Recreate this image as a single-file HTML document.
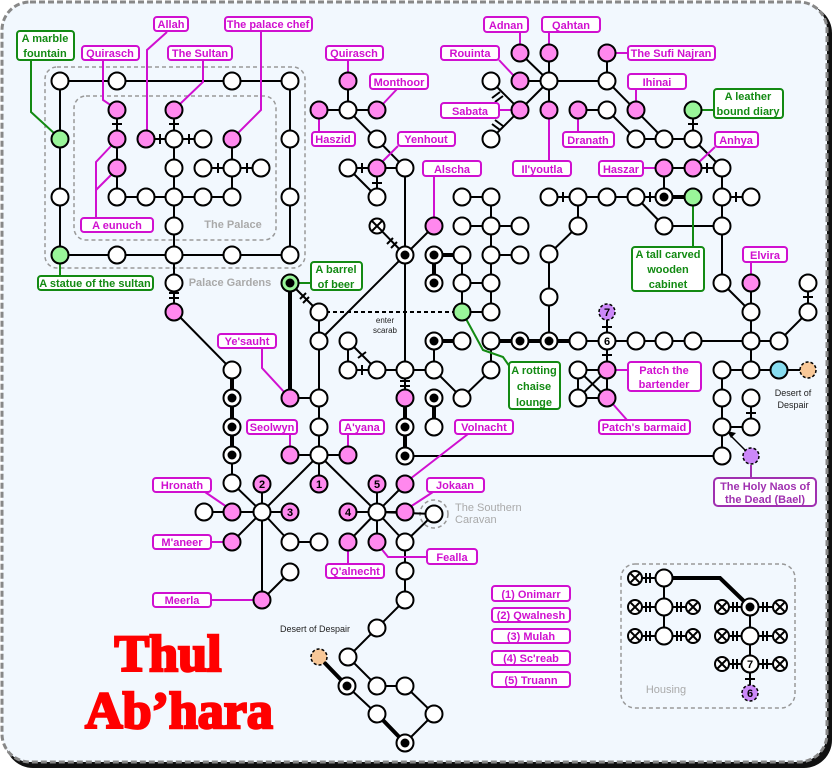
<!DOCTYPE html>
<html><head><meta charset="utf-8"><style>
html,body{margin:0;padding:0;background:#fff}
svg{display:block}
.e{stroke:#000;stroke-width:2;fill:none}
.t{stroke:#000;stroke-width:4;fill:none}
.w{fill:#fff;stroke:#000;stroke-width:2}
.p{fill:#ff88ee;stroke:#000;stroke-width:2}
.g{fill:#99f599;stroke:#000;stroke-width:2}
.pl{fill:#fff;stroke:#d010d0;stroke-width:2}
.gl{fill:#fff;stroke:#138a13;stroke-width:2}
.pk{stroke:#d010d0;stroke-width:2;fill:none}
.gk{stroke:#138a13;stroke-width:2;fill:none}
text{font-family:"Liberation Sans",sans-serif}
.lt{font-size:11px;font-weight:bold;fill:#d010d0;text-anchor:middle}
.gt{font-size:11px;font-weight:bold;fill:#138a13;text-anchor:middle}
.nt{font-size:11px;font-weight:bold;fill:#000;text-anchor:middle}
</style></head><body>
<svg width="832" height="768" viewBox="0 0 832 768" xmlns="http://www.w3.org/2000/svg">
<rect x="5" y="5" width="827" height="763" rx="28" fill="#111"/>
<rect x="2" y="2" width="825" height="760" rx="28" fill="#f2f8fe" stroke="#888" stroke-width="3" stroke-dasharray="6,3"/>
<!-- dashed areas -->
<rect x="45" y="67" width="260" height="201" rx="12" fill="none" stroke="#999" stroke-width="1.5" stroke-dasharray="4,3"/>
<rect x="74" y="96" width="202" height="144" rx="12" fill="none" stroke="#999" stroke-width="1.5" stroke-dasharray="4,3"/>
<rect x="621" y="564" width="174" height="144" rx="14" fill="none" stroke="#999" stroke-width="1.5" stroke-dasharray="4,3"/>
<circle cx="434" cy="514" r="14" fill="none" stroke="#999" stroke-width="1.5" stroke-dasharray="4,3"/>
<text x="233" y="228" font-size="11" font-weight="bold" fill="#aaa" text-anchor="middle">The Palace</text>
<text x="230" y="286" font-size="11" font-weight="bold" fill="#aaa" text-anchor="middle">Palace Gardens</text>
<text x="455" y="511" font-size="11" fill="#aaa">The Southern</text>
<text x="455" y="523" font-size="11" fill="#aaa">Caravan</text>
<text x="666" y="693" font-size="11" fill="#aaa" text-anchor="middle">Housing</text>
<text x="315" y="632" font-size="9" fill="#222" text-anchor="middle">Desert of Despair</text>
<text x="793" y="396" font-size="9" fill="#222" text-anchor="middle">Desert of</text>
<text x="793" y="408" font-size="9" fill="#222" text-anchor="middle">Despair</text>
<text x="385" y="323" font-size="8" fill="#222" text-anchor="middle">enter</text>
<text x="385" y="333" font-size="8" fill="#222" text-anchor="middle">scarab</text>

<!-- edges -->
<path class="e" d="M60,81H290V255H60Z M117,110V197H232 M174,110V312 M146,139H203 M232,139V197 M203,168H261
M348,81V110 M319,110H377 M348,110L405,168 M348,168H405 M377,168V197 M348,168L377,197
M405,168V456 M377,226L405,255 M405,255L434,226 M405,255L319,341 M290,283L319,312
M462,255V312 M462,197H491 M491,197V312 M462,226H520 M491,255H520 M462,283H491 M462,312H491
M549,81L520,53 M549,81V53 M549,81H520 M549,81L520,110 M549,81V110 M549,81H607 M607,53V81 M607,81L664,139 M491,81L520,110 M491,139L520,110
M578,110H607 M607,110L636,139 M636,139H693 M693,110V139 M693,139L722,168 M664,168H722 M664,168V197
M549,197H664 M578,197V226 M578,226L549,254V341 M636,197L664,226H722 M722,168V283 M722,197H751 M722,283L751,312 M751,283V370 M808,283V312L779,341
M578,341H751H779 M607,312V370 M578,370H607V398H578Z M578,370L607,398 M607,370L578,398
M751,370H808 M751,370H722V456 M722,427H751V398
M405,456H722
M348,341V370 M348,341L377,370 M348,370H434 M434,341V370L462,398L491,370V341
M319,312V455 M290,398H319
M290,455H348 M319,455V484 M319,455L262,512 M319,455L377,512
M175,312L232,370V483L262,512 M204,512H290 M262,484V600 M262,512L232,542 M262,512L290,542H319 M262,600L290,572
M377,484V542 M348,512H405 M377,512L405,484 M377,512L348,542 M377,512L405,542 M377,512L434,514 M405,542L434,514
M405,542V600L377,628L348,657L377,686H405L434,714L405,743 M377,714L347,686
M664,578V636 M750,607V693
M635,578H664 M635,607H693 M635,636H693 M722,607H780 M722,636H780 M722,664H780"/>
<!-- thick -->
<path class="t" d="M290,283V398 M232,370V455 M405,398V456 M434,255H462 M434,255V283 M434,341H462 M491,341H578 M434,398V427 M664,197H693 M405,743L377,714 M347,686L319,657 M664,578H720L750,607"/>
<path class="e" stroke-dasharray="4,3" d="M319,312H462"/>
<!-- ticks -->
<path class="e" stroke-width="2" d="M112,124h10 M169,124h10 M169,293h10 M169,298h10 M372,183h10 M400,381h10 M400,386h10 M688,124h10 M803,297h10 M602,327h10 M602,355h10 M746,413h10 M745,679h10
M160,134v10 M189,134v10 M218,163v10 M247,163v10 M362,163v10 M563,192v10 M650,192v10 M707,163v10 M736,192v10 M362,365v10
M492,98l8,-6 M495,102l8,-6 M492,124l8,6 M495,120l8,6 M387,244l6,-6 M391,248l6,-6 M300,299l6,-6 M303,303l6,-6 M358,358l8,-6
M646,573v10 M650,573v10 M646,602v10 M650,602v10 M677,602v10 M681,602v10 M646,631v10 M650,631v10 M677,631v10 M681,631v10
M733,602v10 M737,602v10 M763,602v10 M767,602v10 M733,631v10 M737,631v10 M763,631v10 M767,631v10 M733,659v10 M737,659v10 M763,659v10 M767,659v10"/>
<!-- arrow -->
<path d="M751,456L730,435" stroke="#000" stroke-width="1.5"/><path d="M727,431l9,2l-5,5z" fill="#000"/>

<!-- leader lines -->
<path class="pk" d="M167,32L147,50V131 M261,32V110L236,135 M103,60V100L112,106 M203,60V82L180,104 M96,218V162L112,145 M96,190L112,174
M348,60V73 M398,88L382,105 M319,118V132 M398,146L383,161 M520,32V45 M549,32V45 M499,60L514,76 M615,53H628 M636,89V102 M499,110H512 M578,118V132 M549,118V161 M643,168H656 M715,147L698,163 M434,176V218 M751,262V275
M262,348V368L285,393 M290,434V447 M348,434V447 M468,434L410,479 M205,492L227,507 M433,492L410,507 M211,542H224 M427,557H388L380,547 M348,564V550 M211,600H253 M628,370H615 M627,420L612,403"/>
<path d="M751,478V465" stroke="#a030b0" stroke-width="2"/>
<path class="gk" d="M31,60V112L55,134 M60,264V276 M298,283H311 M701,110H714 M693,205V247 M465,317L483,350L503,357L510,367"/>

<!-- nodes -->
<g class="w">
<circle cx="60" cy="81" r="8.5"/><circle cx="117" cy="81" r="8.5"/><circle cx="232" cy="81" r="8.5"/><circle cx="290" cy="81" r="8.5"/>
<circle cx="60" cy="197" r="8.5"/><circle cx="290" cy="139" r="8.5"/><circle cx="290" cy="197" r="8.5"/><circle cx="290" cy="255" r="8.5"/>
<circle cx="117" cy="255" r="8.5"/><circle cx="174" cy="255" r="8.5"/><circle cx="232" cy="255" r="8.5"/>
<circle cx="117" cy="197" r="8.5"/><circle cx="146" cy="197" r="8.5"/><circle cx="174" cy="197" r="8.5"/><circle cx="203" cy="197" r="8.5"/><circle cx="232" cy="197" r="8.5"/>
<circle cx="174" cy="139" r="8.5"/><circle cx="203" cy="139" r="8.5"/><circle cx="174" cy="168" r="8.5"/><circle cx="174" cy="226" r="8.5"/><circle cx="174" cy="283" r="8.5"/>
<circle cx="203" cy="168" r="8.5"/><circle cx="232" cy="168" r="8.5"/><circle cx="261" cy="168" r="8.5"/>
<circle cx="348" cy="110" r="8.5"/><circle cx="377" cy="139" r="8.5"/><circle cx="405" cy="168" r="8.5"/><circle cx="348" cy="168" r="8.5"/><circle cx="377" cy="197" r="8.5"/>
<circle cx="319" cy="312" r="8.5"/><circle cx="319" cy="341" r="8.5"/><circle cx="319" cy="398" r="8.5"/><circle cx="319" cy="427" r="8.5"/><circle cx="319" cy="455" r="8.5"/>
<circle cx="462" cy="197" r="8.5"/><circle cx="491" cy="197" r="8.5"/><circle cx="462" cy="226" r="8.5"/><circle cx="491" cy="226" r="8.5"/><circle cx="520" cy="226" r="8.5"/>
<circle cx="462" cy="255" r="8.5"/><circle cx="491" cy="255" r="8.5"/><circle cx="520" cy="255" r="8.5"/><circle cx="462" cy="283" r="8.5"/><circle cx="491" cy="283" r="8.5"/><circle cx="491" cy="312" r="8.5"/>
<circle cx="549" cy="81" r="8.5"/><circle cx="491" cy="81" r="8.5"/><circle cx="491" cy="139" r="8.5"/><circle cx="607" cy="81" r="8.5"/><circle cx="607" cy="110" r="8.5"/>
<circle cx="636" cy="139" r="8.5"/><circle cx="664" cy="139" r="8.5"/><circle cx="693" cy="139" r="8.5"/><circle cx="722" cy="168" r="8.5"/>
<circle cx="549" cy="197" r="8.5"/><circle cx="578" cy="197" r="8.5"/><circle cx="607" cy="197" r="8.5"/><circle cx="636" cy="197" r="8.5"/>
<circle cx="578" cy="226" r="8.5"/><circle cx="549" cy="254" r="8.5"/><circle cx="549" cy="297" r="8.5"/><circle cx="664" cy="226" r="8.5"/>
<circle cx="722" cy="197" r="8.5"/><circle cx="751" cy="197" r="8.5"/><circle cx="722" cy="226" r="8.5"/><circle cx="722" cy="283" r="8.5"/><circle cx="751" cy="312" r="8.5"/>
<circle cx="808" cy="283" r="8.5"/><circle cx="808" cy="312" r="8.5"/><circle cx="779" cy="341" r="8.5"/>
<circle cx="578" cy="341" r="8.5"/><circle cx="607" cy="341" r="8.5"/><circle cx="636" cy="341" r="8.5"/><circle cx="664" cy="341" r="8.5"/><circle cx="693" cy="341" r="8.5"/><circle cx="751" cy="341" r="8.5"/>
<circle cx="578" cy="370" r="8.5"/><circle cx="578" cy="398" r="8.5"/>
<circle cx="751" cy="370" r="8.5"/><circle cx="722" cy="370" r="8.5"/><circle cx="722" cy="398" r="8.5"/><circle cx="722" cy="427" r="8.5"/><circle cx="751" cy="398" r="8.5"/><circle cx="751" cy="427" r="8.5"/><circle cx="722" cy="456" r="8.5"/>
<circle cx="462" cy="341" r="8.5"/><circle cx="491" cy="341" r="8.5"/><circle cx="348" cy="341" r="8.5"/><circle cx="348" cy="370" r="8.5"/><circle cx="377" cy="370" r="8.5"/><circle cx="405" cy="370" r="8.5"/><circle cx="434" cy="370" r="8.5"/><circle cx="491" cy="370" r="8.5"/><circle cx="462" cy="398" r="8.5"/><circle cx="434" cy="427" r="8.5"/>
<circle cx="232" cy="370" r="8.5"/><circle cx="232" cy="483" r="8.5"/><circle cx="204" cy="512" r="8.5"/><circle cx="262" cy="512" r="8.5"/><circle cx="290" cy="542" r="8.5"/><circle cx="319" cy="542" r="8.5"/><circle cx="290" cy="572" r="8.5"/>
<circle cx="377" cy="512" r="8.5"/><circle cx="405" cy="542" r="8.5"/><circle cx="434" cy="514" r="8.5"/><circle cx="405" cy="571" r="8.5"/><circle cx="405" cy="600" r="8.5"/><circle cx="377" cy="628" r="8.5"/><circle cx="348" cy="657" r="8.5"/>
<circle cx="377" cy="686" r="8.5"/><circle cx="405" cy="686" r="8.5"/><circle cx="434" cy="714" r="8.5"/><circle cx="377" cy="714" r="8.5"/>
<circle cx="664" cy="578" r="8.5"/><circle cx="664" cy="607" r="8.5"/><circle cx="664" cy="636" r="8.5"/><circle cx="750" cy="636" r="8.5"/><circle cx="750" cy="664" r="8.5"/>
</g>
<!-- bullseyes -->
<g>
<circle class="w" cx="405" cy="255" r="8.5"/><circle cx="405" cy="255" r="4.5"/>
<circle class="w" cx="434" cy="255" r="8.5"/><circle cx="434" cy="255" r="4.5"/>
<circle class="w" cx="434" cy="283" r="8.5"/><circle cx="434" cy="283" r="4.5"/>
<circle class="w" cx="664" cy="197" r="8.5"/><circle cx="664" cy="197" r="4.5"/>
<circle class="w" cx="434" cy="341" r="8.5"/><circle cx="434" cy="341" r="4.5"/>
<circle class="w" cx="520" cy="341" r="8.5"/><circle cx="520" cy="341" r="4.5"/>
<circle class="w" cx="549" cy="341" r="8.5"/><circle cx="549" cy="341" r="4.5"/>
<circle class="w" cx="434" cy="398" r="8.5"/><circle cx="434" cy="398" r="4.5"/>
<circle class="w" cx="405" cy="427" r="8.5"/><circle cx="405" cy="427" r="4.5"/>
<circle class="w" cx="405" cy="456" r="8.5"/><circle cx="405" cy="456" r="4.5"/>
<circle class="w" cx="232" cy="398" r="8.5"/><circle cx="232" cy="398" r="4.5"/>
<circle class="w" cx="232" cy="427" r="8.5"/><circle cx="232" cy="427" r="4.5"/>
<circle class="w" cx="232" cy="455" r="8.5"/><circle cx="232" cy="455" r="4.5"/>
<circle class="w" cx="347" cy="686" r="8.5"/><circle cx="347" cy="686" r="4.5"/>
<circle class="w" cx="405" cy="743" r="8.5"/><circle cx="405" cy="743" r="4.5"/>
<circle class="w" cx="750" cy="607" r="8.5"/><circle cx="750" cy="607" r="4.5"/>
<circle class="g" cx="290" cy="283" r="8.5"/><circle cx="290" cy="283" r="4.5"/>
</g>
<!-- X nodes -->
<g stroke="#000" stroke-width="2" fill="#fff">
<circle cx="377" cy="226" r="7.5"/><path d="M372,221l10,10M382,221l-10,10"/>
<circle cx="635" cy="578" r="7"/><path d="M630,573l10,10M640,573l-10,10"/>
<circle cx="635" cy="607" r="7"/><path d="M630,602l10,10M640,602l-10,10"/>
<circle cx="635" cy="636" r="7"/><path d="M630,631l10,10M640,631l-10,10"/>
<circle cx="693" cy="607" r="7"/><path d="M688,602l10,10M698,602l-10,10"/>
<circle cx="693" cy="636" r="7"/><path d="M688,631l10,10M698,631l-10,10"/>
<circle cx="722" cy="607" r="7"/><path d="M717,602l10,10M727,602l-10,10"/>
<circle cx="722" cy="636" r="7"/><path d="M717,631l10,10M727,631l-10,10"/>
<circle cx="722" cy="664" r="7"/><path d="M717,659l10,10M727,659l-10,10"/>
<circle cx="780" cy="607" r="7"/><path d="M775,602l10,10M785,602l-10,10"/>
<circle cx="780" cy="636" r="7"/><path d="M775,631l10,10M785,631l-10,10"/>
<circle cx="780" cy="664" r="7"/><path d="M775,659l10,10M785,659l-10,10"/>
</g>
<!-- pink nodes -->
<g class="p">
<circle cx="117" cy="110" r="8.5"/><circle cx="117" cy="139" r="8.5"/><circle cx="117" cy="168" r="8.5"/><circle cx="146" cy="139" r="8.5"/><circle cx="174" cy="110" r="8.5"/><circle cx="232" cy="139" r="8.5"/><circle cx="174" cy="312" r="8.5"/>
<circle cx="348" cy="81" r="8.5"/><circle cx="319" cy="110" r="8.5"/><circle cx="377" cy="110" r="8.5"/><circle cx="377" cy="168" r="8.5"/><circle cx="434" cy="226" r="8.5"/>
<circle cx="520" cy="53" r="8.5"/><circle cx="549" cy="53" r="8.5"/><circle cx="520" cy="81" r="8.5"/><circle cx="520" cy="110" r="8.5"/><circle cx="549" cy="110" r="8.5"/><circle cx="607" cy="53" r="8.5"/><circle cx="636" cy="110" r="8.5"/><circle cx="578" cy="110" r="8.5"/>
<circle cx="664" cy="168" r="8.5"/><circle cx="693" cy="168" r="8.5"/><circle cx="751" cy="283" r="8.5"/>
<circle cx="607" cy="370" r="8.5"/><circle cx="607" cy="398" r="8.5"/>
<circle cx="290" cy="398" r="8.5"/><circle cx="290" cy="455" r="8.5"/><circle cx="348" cy="455" r="8.5"/><circle cx="405" cy="398" r="8.5"/>
<circle cx="319" cy="484" r="8.5"/><circle cx="262" cy="484" r="8.5"/><circle cx="290" cy="512" r="8.5"/><circle cx="232" cy="512" r="8.5"/><circle cx="232" cy="542" r="8.5"/><circle cx="262" cy="600" r="8.5"/>
<circle cx="377" cy="484" r="8.5"/><circle cx="348" cy="512" r="8.5"/><circle cx="405" cy="484" r="8.5"/><circle cx="405" cy="512" r="8.5"/><circle cx="348" cy="542" r="8.5"/><circle cx="377" cy="542" r="8.5"/>
</g>
<g class="g"><circle cx="60" cy="139" r="8.5"/><circle cx="60" cy="255" r="8.5"/><circle cx="462" cy="312" r="8.5"/><circle cx="693" cy="110" r="8.5"/><circle cx="693" cy="197" r="8.5"/></g>
<g stroke="#000" stroke-width="1.5" stroke-dasharray="3,2">
<circle cx="607" cy="312" r="8" fill="#cc88f8"/><circle cx="751" cy="456" r="8" fill="#cc88f8"/><circle cx="750" cy="693" r="8" fill="#cc88f8"/>
<circle cx="808" cy="370" r="8" fill="#f8c898"/><circle cx="319" cy="657" r="8" fill="#f8c898"/>
</g>
<circle cx="779" cy="370" r="8.5" fill="#88ddf0" stroke="#000" stroke-width="2"/>
<g class="nt">
<text x="319" y="488">1</text><text x="262" y="488">2</text><text x="290" y="516">3</text><text x="348" y="516">4</text><text x="377" y="488">5</text>
<text x="607" y="345">6</text><text x="607" y="316">7</text><text x="750" y="668">7</text><text x="750" y="697">6</text>
</g>

<!-- pink labels -->
<g class="pl">
<rect x="154" y="17" width="34" height="14" rx="3"/><rect x="225" y="17" width="87" height="14" rx="3"/>
<rect x="82" y="46" width="57" height="14" rx="3"/><rect x="168" y="46" width="64" height="14" rx="3"/>
<rect x="81" y="218" width="72" height="14" rx="3"/>
<rect x="326" y="46" width="57" height="14" rx="3"/><rect x="370" y="74" width="58" height="15" rx="3"/>
<rect x="312" y="132" width="43" height="14" rx="3"/><rect x="398" y="132" width="57" height="14" rx="3"/>
<rect x="484" y="17" width="44" height="15" rx="3"/><rect x="542" y="17" width="58" height="15" rx="3"/>
<rect x="441" y="46" width="58" height="14" rx="3"/><rect x="628" y="46" width="87" height="14" rx="3"/>
<rect x="628" y="74" width="58" height="15" rx="3"/><rect x="441" y="103" width="58" height="15" rx="3"/>
<rect x="563" y="132" width="51" height="15" rx="3"/><rect x="715" y="132" width="43" height="15" rx="3"/>
<rect x="513" y="161" width="58" height="15" rx="3"/><rect x="599" y="161" width="44" height="15" rx="3"/>
<rect x="423" y="161" width="58" height="15" rx="3"/><rect x="743" y="247" width="44" height="15" rx="3"/>
<rect x="218" y="334" width="58" height="14" rx="3"/><rect x="247" y="420" width="50" height="14" rx="3"/>
<rect x="340" y="420" width="44" height="14" rx="3"/><rect x="455" y="420" width="58" height="14" rx="3"/>
<rect x="153" y="478" width="58" height="14" rx="3"/><rect x="427" y="478" width="57" height="14" rx="3"/>
<rect x="153" y="535" width="58" height="14" rx="3"/><rect x="427" y="549" width="50" height="15" rx="3"/>
<rect x="326" y="564" width="58" height="14" rx="3"/><rect x="153" y="593" width="58" height="14" rx="3"/>
<rect x="628" y="362" width="73" height="29" rx="3"/><rect x="599" y="420" width="91" height="14" rx="3"/>
<rect x="492" y="586" width="78" height="15" rx="3"/><rect x="492" y="608" width="78" height="14" rx="3"/>
<rect x="492" y="629" width="78" height="14" rx="3"/><rect x="492" y="651" width="78" height="14" rx="3"/><rect x="492" y="672" width="78" height="15" rx="3"/>
</g>
<rect x="714" y="478" width="102" height="28" rx="4" fill="#fff" stroke="#a030b0" stroke-width="2"/>
<g class="lt">
<text x="171" y="28">Allah</text><text x="268" y="28">The palace chef</text>
<text x="110" y="57">Quirasch</text><text x="200" y="57">The Sultan</text><text x="117" y="229">A eunuch</text>
<text x="354" y="57">Quirasch</text><text x="399" y="86">Monthoor</text><text x="333" y="143">Haszid</text><text x="426" y="143">Yenhout</text>
<text x="506" y="29">Adnan</text><text x="571" y="29">Qahtan</text><text x="470" y="57">Rouinta</text><text x="671" y="57">The Sufi Najran</text>
<text x="657" y="86">Ihinai</text><text x="470" y="115">Sabata</text><text x="588" y="144">Dranath</text><text x="736" y="144">Anhya</text>
<text x="542" y="173">Il'youtla</text><text x="621" y="173">Haszar</text><text x="452" y="173">Alscha</text><text x="765" y="259">Elvira</text>
<text x="247" y="345">Ye'sauht</text><text x="272" y="431">Seolwyn</text><text x="362" y="431">A'yana</text><text x="484" y="431">Volnacht</text>
<text x="182" y="489">Hronath</text><text x="455" y="489">Jokaan</text><text x="182" y="546">M'aneer</text><text x="452" y="561">Fealla</text>
<text x="355" y="575">Q'alnecht</text><text x="182" y="604">Meerla</text>
<text x="664" y="374">Patch the</text><text x="664" y="388">bartender</text><text x="644" y="431">Patch's barmaid</text>
<text x="531" y="598">(1) Onimarr</text><text x="531" y="619">(2) Qwalnesh</text><text x="531" y="640">(3) Mulah</text><text x="531" y="662">(4) Sc'reab</text><text x="531" y="684">(5) Truann</text>
<text x="765" y="490" fill="#a030b0" style="fill:#a030b0">The Holy Naos of</text><text x="765" y="503" style="fill:#a030b0">the Dead (Bael)</text>
</g>
<!-- green labels -->
<g class="gl">
<rect x="17" y="31" width="57" height="29" rx="3"/><rect x="38" y="276" width="115" height="14" rx="3"/>
<rect x="311" y="262" width="51" height="28" rx="3"/><rect x="714" y="89" width="69" height="29" rx="3"/>
<rect x="632" y="247" width="72" height="44" rx="3"/><rect x="509" y="362" width="51" height="47" rx="3"/>
</g>
<g class="gt">
<text x="45" y="42">A marble</text><text x="45" y="57">fountain</text>
<text x="95" y="287">A statue of the sultan</text>
<text x="336" y="273">A barrel</text><text x="336" y="288">of beer</text>
<text x="748" y="100">A leather</text><text x="748" y="115">bound diary</text>
<text x="668" y="258">A tall carved</text><text x="668" y="273">wooden</text><text x="668" y="288">cabinet</text>
<text x="534" y="374">A rotting</text><text x="534" y="390">chaise</text><text x="534" y="406">lounge</text>
</g>
<!-- title -->
<g font-family="Liberation Serif, serif" font-weight="bold" font-size="52" fill="#ff0000" stroke="#ff0000" stroke-width="2.5" text-anchor="middle">
<text x="168" y="671" style="font-family:'Liberation Serif',serif">Thul</text>
<text x="179" y="728" style="font-family:'Liberation Serif',serif">Ab’hara</text>
</g>
</svg>
</body></html>
